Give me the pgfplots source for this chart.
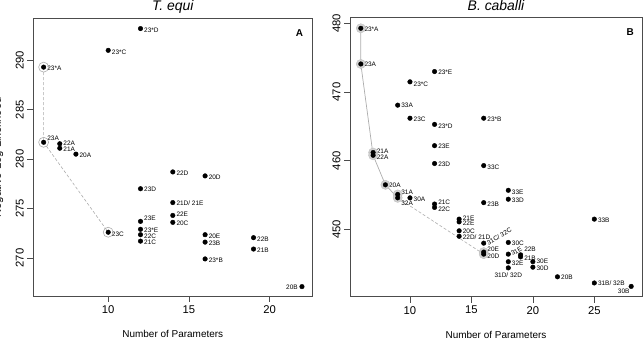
\documentclass[border=0pt]{standalone}
\usepackage{pgfplots}
\pgfplotsset{compat=1.18}
\usepackage{fontspec}
\setmainfont{Liberation Sans}

% model name beside a fit: x, -log L, name, anchor, x/y offset (bp), rotation
\newcommand{\lab}[7]{\node[anchor=#4, xshift=#5bp, yshift=#6bp, rotate=#7,
  inner sep=0pt, text=black, font=\fontsize{6.5}{7}\selectfont]
  at (axis cs:#1,#2) {#3};}

\pgfplotsset{
  rplot/.style={
    scale only axis,
    clip=false,
    axis line style={black!70, line width=0.6bp},
    tick align=outside,
    xtick pos=left, ytick pos=left,
    major tick length=6bp,
    every tick/.style={black!70, line width=0.6bp},
    tick label style={font=\fontsize{11.3}{13}\selectfont},
    /pgf/number format/assume math mode=true,
    yticklabel style={rotate=90, anchor=south},
    label style={font=\fontsize{11.3}{13}\selectfont},
    every axis x label/.style={at={(axis description cs:0.5,-0.151)}, anchor=base},
    xlabel={Number of Parameters},
  },
  fits/.style={only marks, mark=*, mark size=2.3bp, black},
}

\begin{document}
\begin{tikzpicture}
% ---------- T. equi ----------
\begin{axis}[rplot,
  at={(33.3bp,45bp)}, anchor=south west,
  width=279bp, height=277.3bp,
  xmin=5.36, xmax=22.64, ymin=266.15, ymax=294.2,
  xtick={10,15,20}, ytick={270,275,280,285,290},
]
\addplot[gray!65, line width=0.6bp, dash pattern=on 3bp off 2bp]
  coordinates {(6,289.3) (6,281.7) (10,272.6)};
\addplot[only marks, mark=o, mark size=5bp, gray!65, mark options={line width=0.6bp}]
  coordinates {(6,289.3) (6,281.7) (10,272.6)};
\addplot[fits] table {
x  y
6  289.3
6  281.7
7  281.55
7  281.1
8  280.5
12 293.2
10 291.0
14 278.7
16 278.3
12 277.0
14 275.6
14 274.3
14 273.6
12 273.7
12 272.9
12 272.35
12 271.7
10 272.6
16 272.35
16 271.6
16 269.9
19 272.05
19 270.9
22 267.1
};
\lab{6}{289.3}{23*A}{west}{3.5}{-1.5}{0}
\lab{6}{281.7}{23A}{west}{3.5}{4.0}{0}
\lab{7}{281.55}{22A}{west}{3.5}{0.5}{0}
\lab{7}{281.1}{21A}{west}{3.5}{-0.8}{0}
\lab{8}{280.5}{20A}{west}{3.5}{-1.3}{0}
\lab{12}{293.2}{23*D}{west}{3.5}{-1.3}{0}
\lab{10}{291.0}{23*C}{west}{3.5}{-1.7}{0}
\lab{14}{278.7}{22D}{west}{3.5}{-1.0}{0}
\lab{16}{278.3}{20D}{west}{3.5}{-1.0}{0}
\lab{12}{277.0}{23D}{west}{3.5}{-0.7}{0}
\lab{14}{275.6}{21D/ 21E}{west}{3.5}{-1.0}{0}
\lab{14}{274.3}{22E}{west}{3.5}{1.3}{0}
\lab{14}{273.6}{20C}{west}{3.5}{-0.7}{0}
\lab{12}{273.7}{23E}{west}{3.5}{3.0}{0}
\lab{12}{272.9}{23*E}{west}{3.5}{-0.7}{0}
\lab{12}{272.35}{22C}{west}{3.5}{-1.3}{0}
\lab{12}{271.7}{21C}{west}{3.5}{-1.0}{0}
\lab{10}{272.6}{23C}{west}{3.5}{-1.7}{0}
\lab{16}{272.35}{20E}{west}{3.5}{-1.3}{0}
\lab{16}{271.6}{23B}{west}{3.5}{-1.0}{0}
\lab{16}{269.9}{23*B}{west}{3.5}{-1.0}{0}
\lab{19}{272.05}{22B}{west}{3.5}{-1.7}{0}
\lab{19}{270.9}{21B}{west}{3.5}{-1.3}{0}
\lab{22}{267.1}{20B}{east}{-4}{-0.7}{0}
\node[anchor=north east, inner sep=0pt, font=\bfseries\fontsize{10}{12}\selectfont]
  at (rel axis cs:1,1) [xshift=-9bp, yshift=-10.6bp] {A};
% panel title and y-axis title
\node[anchor=base, inner sep=0pt, font=\itshape\fontsize{14}{16}\selectfont]
  at ([yshift=8.5bp]rel axis cs:0.5,1) {T. equi};
\node[anchor=base, inner sep=0pt, rotate=90, font=\fontsize{11.3}{13}\selectfont]
  at ([xshift=-32.3bp]rel axis cs:0,0.5) {Negative Log Likelihood};
\end{axis}
% ---------- B. caballi ----------
\begin{axis}[rplot,
  at={(350bp,44.3bp)}, anchor=south west,
  width=292bp, height=279.4bp,
  xmin=5.12, xmax=28.88, ymin=440.2, ymax=480.9,
  xtick={10,15,20,25}, ytick={450,460,470,480},
]
\addplot[gray!65, line width=0.7bp]
  coordinates {(6,479.3) (6,474.1) (7,460.8) (8,456.5) (9,454.6)};
\addplot[gray!65, line width=0.6bp, dash pattern=on 3bp off 2bp]
  coordinates {(9,454.6) (16,446.4)};
\addplot[only marks, mark=*, mark size=4.6bp, mark options={fill=gray!35, draw=gray!50}]
  coordinates {(6,479.3) (6,474.1) (7,461.2) (7,460.8) (8,456.5) (9,455.1) (9,454.6) (16,446.7) (16,446.4)};
\addplot[fits] table {
x  y
6  479.3
6  474.1
12 473.0
10 471.5
9  468.1
10 466.2
12 465.3
16 466.2
12 462.2
7  461.2
7  460.8
12 459.6
16 459.3
8  456.5
18 455.7
9  455.1
10 454.6
9  454.6
18 454.4
16 453.9
12 453.7
12 453.2
14 451.5
14 451.1
25 451.5
14 449.8
14 449.0
16 448.0
18 448.1
16 446.7
16 446.4
18 446.4
19 446.3
19 446.0
20 445.3
18 445.3
20 444.5
18 444.4
22 443.1
25 442.2
28 441.7
};
\lab{6}{479.3}{23*A}{west}{3.5}{-1.0}{0}
\lab{6}{474.1}{23A}{west}{3.5}{0.0}{0}
\lab{12}{473.0}{23*E}{west}{3.5}{-1.0}{0}
\lab{10}{471.5}{23*C}{west}{3.5}{-2.0}{0}
\lab{9}{468.1}{33A}{west}{3.5}{0.0}{0}
\lab{10}{466.2}{23C}{west}{3.5}{-1.0}{0}
\lab{12}{465.3}{23*D}{west}{3.5}{-2.3}{0}
\lab{16}{466.2}{23*B}{west}{3.5}{-1.0}{0}
\lab{12}{462.2}{23E}{west}{3.5}{-1.0}{0}
\lab{7}{461.2}{21A}{west}{3.5}{1.0}{0}
\lab{7}{460.8}{22A}{west}{3.5}{-2.0}{0}
\lab{12}{459.6}{23D}{west}{3.5}{-0.7}{0}
\lab{16}{459.3}{33C}{west}{3.5}{-2.0}{0}
\lab{8}{456.5}{20A}{west}{3.5}{-0.7}{0}
\lab{18}{455.7}{33E}{west}{3.5}{-1.7}{0}
\lab{9}{455.1}{31A}{west}{3.5}{2.3}{0}
\lab{10}{454.6}{30A}{west}{3.5}{-1.0}{0}
\lab{9}{454.6}{32A}{west}{3.5}{-5.0}{0}
\lab{18}{454.4}{33D}{west}{3.5}{-1.0}{0}
\lab{16}{453.9}{23B}{west}{3.5}{-1.3}{0}
\lab{12}{453.7}{21C}{west}{3.5}{1.7}{0}
\lab{12}{453.2}{22C}{west}{3.5}{-2.0}{0}
\lab{14}{451.5}{21E}{west}{3.5}{1.3}{0}
\lab{14}{451.1}{22E}{west}{3.5}{-1.7}{0}
\lab{25}{451.5}{33B}{west}{3.5}{-1.0}{0}
\lab{14}{449.8}{20C}{west}{3.5}{0.0}{0}
\lab{14}{449.0}{22D/ 21D}{west}{3.5}{-1.3}{0}
\lab{16}{448.0}{31C/ 32C}{west}{3.5}{0.0}{30}
\lab{18}{448.1}{30C}{west}{3.5}{-1.0}{0}
\lab{16}{446.7}{20E}{west}{3.5}{3.0}{0}
\lab{16}{446.4}{20D}{west}{3.5}{-2.0}{0}
\lab{18}{446.4}{31E}{west}{3.0}{0.0}{30}
\lab{19}{446.3}{22B}{west}{3.5}{6.0}{0}
\lab{19}{446.0}{21B}{west}{3.5}{-1.7}{0}
\lab{20}{445.3}{30E}{west}{3.5}{0.0}{0}
\lab{18}{445.3}{32E}{west}{3.5}{-2.0}{0}
\lab{20}{444.5}{30D}{west}{3.5}{-0.7}{0}
\lab{18}{444.4}{31D/ 32D}{north}{0}{-5.0}{0}
\lab{22}{443.1}{20B}{west}{3.5}{0.0}{0}
\lab{25}{442.2}{31B/ 32B}{west}{3.5}{0.0}{0}
\lab{28}{441.7}{30B}{north east}{-1.5}{-2.0}{0}
\node[anchor=north east, inner sep=0pt, font=\bfseries\fontsize{10}{12}\selectfont]
  at (rel axis cs:1,1) [xshift=-8bp, yshift=-11bp] {B};
\node[anchor=base, inner sep=0pt, font=\itshape\fontsize{14}{16}\selectfont]
  at ([yshift=7.1bp]rel axis cs:0.5,1) {B. caballi};
\end{axis}
\pgfresetboundingbox
\useasboundingbox (0,0) rectangle (643bp,341bp);
\end{tikzpicture}
\end{document}
